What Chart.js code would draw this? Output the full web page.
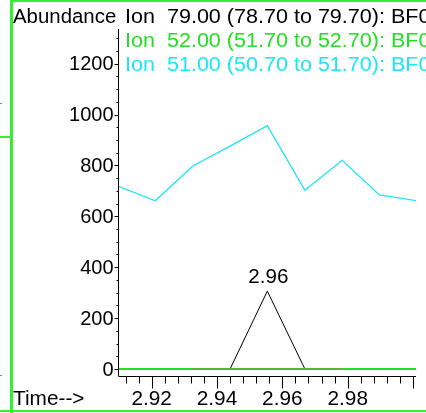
<!DOCTYPE html>
<html>
<head>
<meta charset="utf-8">
<script src="https://cdn.jsdelivr.net/npm/chart.js@4.4.1/dist/chart.umd.min.js"></script>
<style>
  html, body { margin: 0; padding: 0; background: #fff; }
  #wrap { width: 426px; height: 413px; }
</style>
</head>
<body>
<div id="wrap"><canvas id="chart" width="426" height="413"></canvas></div>
<script>
// scan times (min)
var times = [2.9097, 2.9211, 2.9326, 2.9440, 2.9554, 2.9669, 2.9783, 2.9897, 3.0011];
// ion 79 (black), ion 52 (green), ion 51 (cyan)
var ion79 = [0, 0, 0, 0, 306, 0, 0, 0, 0];
var ion52 = [0, 0, 0, 0, 0, 0, 0, 0, 0];
var ion51 = [719, 661, 798, 876, 956, 702, 820, 684, 661];

var legendTexts = [
    'Ion  79.00 (78.70 to 79.70): BF0',
    'Ion  52.00 (51.70 to 52.70): BF0',
    'Ion  51.00 (50.70 to 51.70): BF0'
];
var xMajor = [2.92, 2.94, 2.96, 2.98, 3.00];
var xMinorStep = 0.004;
var yMajor = [0, 200, 400, 600, 800, 1000, 1200];
var yMinorStep = 50;
var peakLabel = '2.96';
var peakIndex = 4;

var FONT = '20px "Liberation Sans", Arial, sans-serif';
var colBlack = '#000000';
var colGreen = '#22e022';
var colCyan = '#18e8f8';

function toPts(vals) {
    var out = [];
    for (var i = 0; i < vals.length; i++) {
        out.push({x: times[i], y: vals[i]});
    }
    return out;
}

// text a bit wider than the font draws it
function wideText(ctx, txt, x, y, sx) {
    ctx.save();
    ctx.translate(x, y);
    ctx.scale(sx, 1);
    ctx.fillText(txt, 0, 0);
    ctx.restore();
}

var axesPlugin = {
    id: 'hpAxes',
    afterDatasetsDraw: function(chart) {
        var ctx = chart.ctx;
        var xs = chart.scales.x, ys = chart.scales.y;
        var a = chart.chartArea;
        var x0 = Math.round(a.left) + 0.5;
        var y0 = Math.round(a.bottom) + 0.5;
        ctx.save();
        ctx.strokeStyle = colBlack;
        ctx.lineWidth = 1;
        ctx.beginPath();
        ctx.moveTo(x0, a.top);
        ctx.lineTo(x0, y0);
        ctx.lineTo(a.right, y0);
        ctx.stroke();

        // x ticks
        ctx.beginPath();
        for (var t = 2.912; t <= xs.max + 1e-9; t += xMinorStep) {
            var px = Math.round(xs.getPixelForValue(t)) + 0.5;
            var major = false;
            for (var j = 0; j < xMajor.length; j++) {
                if (Math.abs(xMajor[j] - t) < 1e-6) major = true;
            }
            ctx.moveTo(px, y0);
            ctx.lineTo(px, y0 + (major ? 12 : 7));
        }
        ctx.stroke();

        // y ticks
        ctx.beginPath();
        for (var v = 0; v <= ys.max; v += yMinorStep) {
            var py = Math.round(ys.getPixelForValue(v)) + 0.5;
            var isMaj = yMajor.indexOf(v) >= 0;
            ctx.moveTo(x0, py);
            ctx.lineTo(x0 - (isMaj ? 4 : 2), py);
        }
        ctx.stroke();

        ctx.fillStyle = colBlack;
        ctx.font = FONT;
        ctx.textAlign = 'right';
        ctx.textBaseline = 'middle';
        yMajor.forEach(function(v) {
            wideText(ctx, String(v), x0 - 5, ys.getPixelForValue(v) + 1, 1.0);
        });

        ctx.textAlign = 'center';
        ctx.textBaseline = 'alphabetic';
        xMajor.forEach(function(t) {
            if (t < 3.0) wideText(ctx, t.toFixed(2), xs.getPixelForValue(t), 405, 1.04);
        });
        ctx.textAlign = 'left';
        wideText(ctx, 'Time-->', 13, 405, 1.04);
        wideText(ctx, 'Abundance', 13, 23, 1.02);

        // legend
        var lc = [colBlack, colGreen, colCyan];
        ctx.font = '19.5px "Liberation Sans", Arial, sans-serif';
        for (var k = 0; k < legendTexts.length; k++) {
            ctx.fillStyle = lc[k];
            wideText(ctx, legendTexts[k], 125, 23 + k * 24, 1.105);
        }

        // peak label
        ctx.font = FONT;
        ctx.fillStyle = colBlack;
        ctx.textAlign = 'center';
        wideText(ctx, peakLabel, xs.getPixelForValue(times[peakIndex]) + 1,
            ys.getPixelForValue(ion79[peakIndex]) - 8, 1.03);

        // frame
        ctx.fillStyle = '#33ee33';
        ctx.fillRect(10, 0, 3, 413);
        ctx.fillRect(10, 0, 416, 2);
        ctx.fillRect(0, 410, 426, 2);
        ctx.fillRect(0, 136, 10, 2);
        ctx.fillStyle = '#888';
        ctx.fillRect(0, 103, 2, 1);
        ctx.fillRect(0, 375, 2, 1);
        ctx.restore();
    }
};

var ctxLine = document.getElementById('chart').getContext('2d');
var myChart = new Chart(ctxLine, {
    type: 'line',
    data: {
        datasets: [{
            label: 'Ion 79',
            data: toPts(ion79),
            borderColor: colBlack,
            borderWidth: 1,
            pointRadius: 0,
            tension: 0,
            order: 3
        }, {
            label: 'Ion 51',
            data: toPts(ion51),
            borderColor: colCyan,
            borderWidth: 1.3,
            pointRadius: 0,
            tension: 0,
            order: 2
        }, {
            label: 'Ion 52',
            data: toPts(ion52),
            borderColor: colGreen,
            borderWidth: 2,
            pointRadius: 0,
            tension: 0,
            order: 1,
            segment: {
                borderColor: function(c) {
                    return (c.p0DataIndex >= 2 && c.p0DataIndex < 6) ? '#55b828' : colGreen;
                }
            }
        }]
    },
    options: {
        responsive: false,
        animation: false,
        layout: { padding: { left: 118, right: 10, top: 29, bottom: 37 } },
        plugins: { legend: { display: false }, tooltip: { enabled: false } },
        scales: {
            x: { type: 'linear', display: false, min: 2.9097, max: 3.0009 },
            y: { type: 'linear', display: false, min: -27.5, max: 1336 }
        }
    },
    plugins: [axesPlugin]
});
</script>
</body>
</html>
